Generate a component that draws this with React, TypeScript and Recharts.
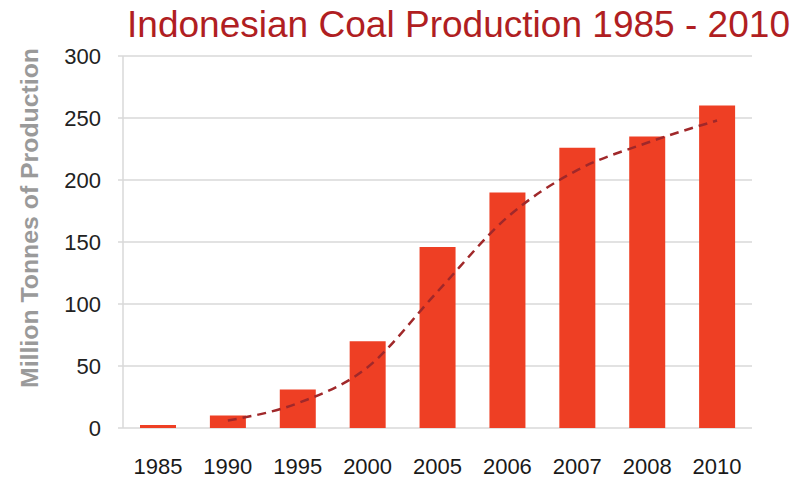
import React from 'react';
import { ComposedChart, Bar, Line, XAxis, YAxis, CartesianGrid, Label } from 'recharts';

const YEARS = ['1985', '1990', '1995', '2000', '2005', '2006', '2007', '2008', '2010'];
const PRODUCTION = [2.5, 10, 31, 70, 146, 190, 226, 235, 260];
// dashed trend line (smoothed), starts at 1990
const TREND = [null, 6, 20, 49, 110, 170, 208, 230, 248];
const Y_TICKS = [0, 50, 100, 150, 200, 250, 300];
const BOUNDARY_TICKS = [0, 1, 2, 3, 4, 5, 6, 7, 8, 9];

const data = YEARS.map((year, i) => ({
  year,
  production: PRODUCTION[i],
  trend: TREND[i],
}));

const GRID = '#d9d9d9';
const FONT = '"Liberation Sans", Arial, sans-serif';

const YLabel = (props: any) => {
  const { viewBox } = props;
  const cx = viewBox.x + 30;
  const cy = viewBox.y + viewBox.height / 2 - 24;
  return (
    <text
      x={cx}
      y={cy}
      transform={`rotate(-90, ${cx}, ${cy})`}
      textAnchor="middle"
      dominantBaseline="central"
      fill="#9a9a9a"
      fontWeight="bold"
      fontSize={23}
      fontFamily={FONT}
      textLength={340}
      lengthAdjust="spacingAndGlyphs"
    >
      Million Tonnes of Production
    </text>
  );
};

const App = () => {
  return (
    <div style={{ position: 'absolute', left: 0, top: 0, width: 807, height: 479, background: '#fff' }}>
      <svg width={807} height={50} style={{ position: 'absolute', left: 0, top: 0 }}>
        <text
          x={127}
          y={37}
          fill="#b01e22"
          fontSize={37}
          fontFamily={FONT}
          textLength={663}
          lengthAdjust="spacingAndGlyphs"
        >
          Indonesian Coal Production 1985 - 2010
        </text>
      </svg>
      <ComposedChart
        width={807}
        height={479}
        data={data}
        margin={{ top: 56, right: 55, bottom: 0, left: 0 }}
        barSize={36}
      >
        <CartesianGrid vertical={false} stroke={GRID} strokeWidth={1.5} />
        <XAxis
          xAxisId="bounds"
          type="number"
          domain={[0, 9]}
          ticks={BOUNDARY_TICKS}
          tick={false}
          tickSize={6}
          tickLine={{ stroke: GRID, strokeWidth: 1.5 }}
          axisLine={{ stroke: GRID, strokeWidth: 2 }}
          height={0}
        />
        <XAxis
          dataKey="year"
          axisLine={false}
          tickLine={false}
          tickMargin={24}
          height={51}
          tick={{ fill: '#1a1a1a', fontSize: 22, fontFamily: FONT }}
        />
        <YAxis
          width={123}
          domain={[0, 300]}
          ticks={Y_TICKS}
          tickSize={5}
          tickMargin={17}
          tickLine={{ stroke: GRID, strokeWidth: 1.5 }}
          axisLine={{ stroke: GRID, strokeWidth: 1.5 }}
          tick={{ fill: '#222', fontSize: 22, fontFamily: FONT }}
          label={<Label content={<YLabel />} />}
        />
        <Bar dataKey="production" fill="#ee3f24" isAnimationActive={false} />
        <Line
          type="monotone"
          dataKey="trend"
          stroke="#a0282a"
          strokeWidth={2.5}
          strokeDasharray="9 6"
          dot={false}
          activeDot={false}
          connectNulls
          isAnimationActive={false}
        />
      </ComposedChart>
    </div>
  );
};

export default App;
